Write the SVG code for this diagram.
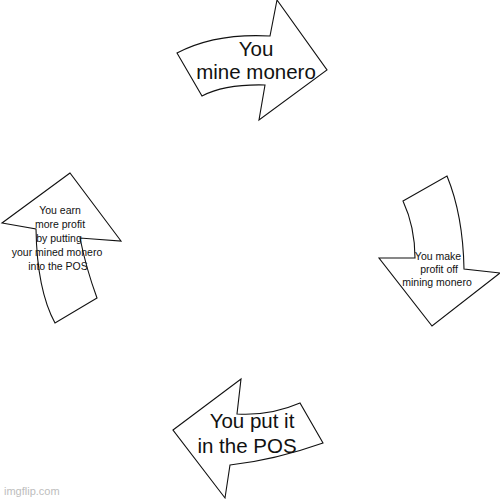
<svg xmlns="http://www.w3.org/2000/svg" width="500" height="500" viewBox="0 0 500 500">
<style>
.arrow{fill:#fff;stroke:#111;stroke-width:1.1;stroke-linejoin:miter}
.big{font-family:"Liberation Sans",Arial,sans-serif;font-size:20.5px;fill:#111;text-anchor:middle}
.small{font-family:"Liberation Sans",Arial,sans-serif;font-size:10.5px;fill:#111;text-anchor:middle}
.wm{font-family:"Liberation Sans",Arial,sans-serif;font-size:11px;fill:#bdbdbd}
</style>
<rect width="500" height="500" fill="#fff"/>
<g id="connectors"/>
<g id="node-top">
<path class="arrow" d="M177,53 Q215,33 270,36 L277,0 L327,70 L259,120 L265,85 Q225,84 202,96 Z"/>
<text class="big" x="256" y="56">You</text>
<text class="big" x="256" y="79">mine monero</text>
</g>
<g id="node-right">
<path class="arrow" d="M403,201 Q415,227 415,258 L379,258 L432,326 L500,273 L464,269 Q463,215 447,176 Z"/>
<text class="small" x="438" y="260">You make</text>
<text class="small" x="439" y="273">profit off</text>
<text class="small" x="437" y="286">mining monero</text>
</g>
<g id="node-bottom">
<path class="arrow" d="M173,430 L241,379 L237,414 Q270,416 300,403 L323,443 Q275,460 230,465 L225,498 Z"/>
<text class="big" x="252" y="428">You put it</text>
<text class="big" x="247" y="453">in the POS</text>
</g>
<g id="node-left">
<path class="arrow" d="M70,173 L2,223 L36,229 Q37,290 55,323 L97,298 Q86,268 80,238 L121,241 Z"/>
<text class="small" x="60" y="214">You earn</text>
<text class="small" x="60" y="228">more profit</text>
<text class="small" x="59" y="242">by putting</text>
<text class="small" x="57" y="256">your mined monero</text>
<text class="small" x="58" y="270">into the POS</text>
</g>
<text class="wm" x="4" y="495">imgflip.com</text>
</svg>
